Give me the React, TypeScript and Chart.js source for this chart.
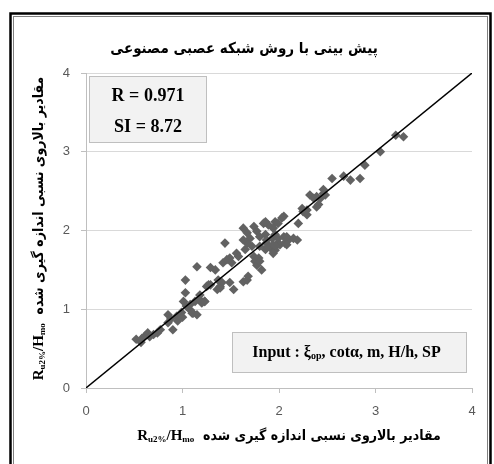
import React, { useEffect, useRef } from "react";
import { Chart, registerables } from "chart.js";

Chart.register(...registerables);

// Measured relative run-up (x) and network prediction (y), Ru2%/Hmo
const measured = [
  0.52, 0.57, 0.58, 0.61, 0.64, 0.66, 0.70, 0.74, 0.77, 0.85, 0.88, 0.90, 0.85, 0.94, 0.95, 0.99, 1.00,
  1.04, 1.08, 1.11, 1.03, 1.03, 1.01, 1.08, 1.13, 1.20, 1.23, 1.10, 1.15, 1.27, 1.36, 1.39, 1.18,
  1.15, 1.18, 1.23, 1.25, 1.29, 1.29, 1.34, 1.37, 1.41, 1.44, 1.42, 1.46, 1.51, 1.49, 1.49, 1.53,
  1.39, 1.56, 1.58, 1.63, 1.67, 1.68,
  1.63, 1.67, 1.70, 1.74, 1.77, 1.80, 1.84, 1.89, 1.94, 1.87, 1.91, 1.96, 1.99, 1.67, 1.72, 1.74,
  1.75, 1.79, 1.82, 1.77, 1.86, 1.96, 1.99, 2.05, 2.03, 1.63, 1.65, 1.86, 1.87, 1.93, 1.96, 1.99,
  2.05, 2.10, 2.15, 2.19, 2.08, 1.80, 1.94, 2.01, 2.06, 2.08, 1.80, 1.97, 1.94, 1.86,
  2.20, 2.24, 2.29, 2.32, 2.39, 2.41, 2.46, 2.46, 2.48, 2.43, 2.36, 2.39, 2.25, 2.29,
  2.55, 2.67, 2.74, 2.84, 2.89, 3.05, 3.21, 3.29,
];
const predicted = [
  0.62, 0.58, 0.63, 0.66, 0.70, 0.65, 0.68, 0.70, 0.74, 0.93, 0.88, 0.74, 0.83, 0.91, 0.85, 0.96, 0.90,
  1.04, 0.99, 0.95, 1.21, 1.37, 1.10, 1.06, 1.10, 1.08, 1.10, 0.95, 0.93, 1.31, 1.25, 1.29, 1.18,
  1.54, 1.12, 1.10, 1.29, 1.31, 1.53, 1.50, 1.37, 1.34, 1.84, 1.59, 1.63, 1.59, 1.65, 1.34, 1.25,
  1.27, 1.71, 1.67, 1.35, 1.37, 1.42,
  2.03, 1.97, 1.90, 2.05, 1.99, 1.92, 2.09, 2.07, 2.03, 1.84, 1.78, 1.75, 1.84, 1.84, 1.80, 1.67,
  1.61, 1.65, 1.50, 1.56, 2.11, 2.11, 2.09, 2.18, 2.16, 1.88, 1.76, 1.95, 1.88, 1.90, 1.95, 1.90,
  1.92, 1.88, 1.90, 1.88, 1.92, 1.80, 1.82, 1.82, 1.84, 1.82, 1.61, 1.80, 1.71, 1.76,
  2.09, 2.28, 2.26, 2.45, 2.43, 2.33, 2.47, 2.52, 2.45, 2.41, 2.41, 2.30, 2.24, 2.20,
  2.66, 2.69, 2.64, 2.66, 2.83, 3.00, 3.21, 3.19,
];

// Line of perfect agreement
const identityLine = [0, 4];
const axisRange = [0, 4];

const chartTitle = "پیش بینی با روش شبکه عصبی مصنوعی";
const axisTitleFa = "مقادیر بالاروی نسبی اندازه گیری شده";
const statLines = ["R = 0.971", "SI = 8.72"];

const SERIF = "'Liberation Serif', 'Times New Roman', serif";
const FA = "'DejaVu Sans Condensed', 'DejaVu Sans', sans-serif";

type Run = { text: string; font: string; dy?: number };

function runsWidth(ctx: CanvasRenderingContext2D, runs: Run[]) {
  let w = 0;
  for (const r of runs) {
    ctx.font = r.font;
    w += ctx.measureText(r.text).width;
  }
  return w;
}

function drawRuns(ctx: CanvasRenderingContext2D, runs: Run[], cx: number, cy: number) {
  const total = runsWidth(ctx, runs);
  let x = cx - total / 2;
  ctx.textAlign = "left";
  ctx.textBaseline = "middle";
  for (const r of runs) {
    ctx.font = r.font;
    ctx.fillText(r.text, x, cy + (r.dy || 0));
    x += ctx.measureText(r.text).width;
  }
}

function axisTitleRuns(): Run[] {
  return [
    { text: "R", font: `bold 15px ${SERIF}` },
    { text: "u2%", font: `bold 9px ${SERIF}`, dy: 4 },
    { text: "/H", font: `bold 15px ${SERIF}` },
    { text: "mo", font: `bold 9px ${SERIF}`, dy: 4 },
    { text: "  ", font: `bold 14px ${FA}` },
    { text: axisTitleFa, font: `bold 14px ${FA}` },
  ];
}

const decorations = {
  id: "decorations",
  beforeDraw(chart: any) {
    const ctx = chart.ctx as CanvasRenderingContext2D;
    ctx.save();
    ctx.fillStyle = "#ffffff";
    ctx.fillRect(0, 0, chart.width, chart.height);
    ctx.restore();
  },
  afterDraw(chart: any) {
    const ctx = chart.ctx as CanvasRenderingContext2D;
    const area = chart.chartArea;
    ctx.save();

    // outer frame
    ctx.strokeStyle = "#000000";
    ctx.lineWidth = 2.5;
    ctx.strokeRect(10.5, 13.5, 480, 480);
    ctx.strokeStyle = "#808080";
    ctx.lineWidth = 1;
    ctx.strokeRect(13.5, 16.5, 474, 480);

    // title
    ctx.fillStyle = "#000000";
    ctx.font = `bold 15px ${FA}`;
    ctx.textAlign = "center";
    ctx.textBaseline = "middle";
    ctx.fillText(chartTitle, 244, 49);

    // x axis title
    drawRuns(ctx, axisTitleRuns(), (area.left + area.right) / 2 + 10, 436);

    // y axis title
    ctx.save();
    ctx.translate(39, (area.top + area.bottom) / 2 - 2);
    ctx.rotate(-Math.PI / 2);
    drawRuns(ctx, axisTitleRuns(), 0, 0);
    ctx.restore();

    // statistics box
    const sx = area.left + 3.5, sy = area.top + 3.5, sw = 117, sh = 66;
    ctx.fillStyle = "#f2f2f2";
    ctx.fillRect(sx, sy, sw, sh);
    ctx.strokeStyle = "#bfbfbf";
    ctx.lineWidth = 1;
    ctx.strokeRect(sx, sy, sw, sh);
    ctx.fillStyle = "#000000";
    ctx.font = `bold 18px ${SERIF}`;
    ctx.textAlign = "center";
    ctx.textBaseline = "middle";
    ctx.fillText(statLines[0], sx + sw / 2, sy + 20);
    ctx.fillText(statLines[1], sx + sw / 2, sy + 51);

    // input parameters box
    const ix = area.left + 146.5, iy = area.top + 259.5, iw = 234, ih = 40;
    ctx.fillStyle = "#f2f2f2";
    ctx.fillRect(ix, iy, iw, ih);
    ctx.strokeStyle = "#bfbfbf";
    ctx.strokeRect(ix, iy, iw, ih);
    ctx.fillStyle = "#000000";
    drawRuns(
      ctx,
      [
        { text: "Input : ξ", font: `bold 16px ${SERIF}` },
        { text: "op", font: `bold 10px ${SERIF}`, dy: 4 },
        { text: ", cotα, m, H/h, SP", font: `bold 16px ${SERIF}` },
      ],
      ix + iw / 2 - 3,
      iy + ih / 2
    );

    ctx.restore();
  },
};

export default function App() {
  const canvasRef = useRef<HTMLCanvasElement | null>(null);

  useEffect(() => {
    const canvas = canvasRef.current;
    if (!canvas) return;
    const points = measured.map((x, i) => ({ x, y: predicted[i] }));
    const chart = new Chart(canvas, {
      type: "scatter",
      data: {
        datasets: [
          {
            type: "line",
            label: "y = x",
            data: identityLine.map((v) => ({ x: v, y: v })),
            borderColor: "#000000",
            borderWidth: 1.4,
            pointRadius: 0,
            fill: false,
          },
          {
            label: "ANN",
            data: points,
            pointStyle: "rectRot",
            pointRadius: 4.8,
            backgroundColor: "#626262",
            borderWidth: 0,
          },
        ],
      },
      options: {
        animation: false,
        responsive: false,
        devicePixelRatio: 1,
        layout: { padding: { top: 73, right: 22, bottom: 0, left: 0 } },
        plugins: {
          legend: { display: false },
          tooltip: { enabled: false },
          title: { display: false },
        },
        scales: {
          x: {
            type: "linear",
            min: axisRange[0],
            max: axisRange[1],
            afterFit: (s: any) => {
              s.height = 76;
            },
            ticks: {
              stepSize: 1,
              padding: 11,
              color: "#595959",
              font: { family: "'Liberation Sans', sans-serif", size: 13 },
            },
            grid: {
              drawOnChartArea: false,
              drawTicks: true,
              tickLength: 5,
              tickColor: "#bfbfbf",
            },
            border: { display: true, color: "#bfbfbf" },
          },
          y: {
            type: "linear",
            min: axisRange[0],
            max: axisRange[1],
            afterFit: (s: any) => {
              s.width = 86;
            },
            ticks: {
              stepSize: 1,
              padding: 11,
              color: "#595959",
              font: { family: "'Liberation Sans', sans-serif", size: 13 },
            },
            grid: {
              color: "#d9d9d9",
              tickLength: 5,
              tickColor: "#bfbfbf",
            },
            border: { display: true, color: "#bfbfbf" },
          },
        },
      },
      plugins: [decorations],
    });
    return () => chart.destroy();
  }, []);

  return (
    <div style={{ position: "absolute", left: 0, top: 0, width: 494, height: 464 }}>
      <canvas ref={canvasRef} width={494} height={464} style={{ display: "block" }} />
    </div>
  );
}
